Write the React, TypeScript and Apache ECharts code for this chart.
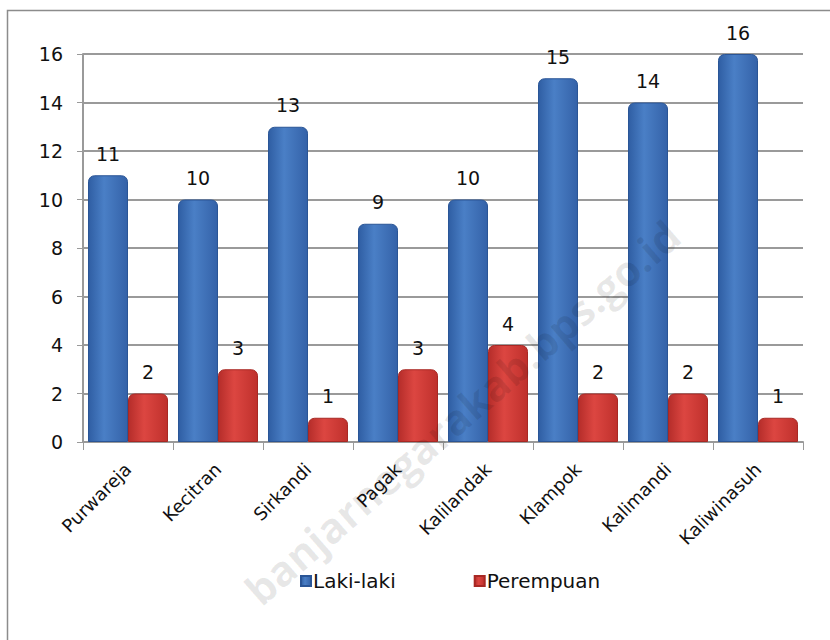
import React, { useEffect, useRef } from "react";
import * as echarts from "echarts";

const categories = ["Purwareja", "Kecitran", "Sirkandi", "Pagak", "Kalilandak", "Klampok", "Kalimandi", "Kaliwinasuh"];
const lakiLaki = [11, 10, 13, 9, 10, 15, 14, 16];
const perempuan = [2, 3, 1, 3, 4, 2, 2, 1];
const seriesNames = ["Laki-laki", "Perempuan"];
const watermark = "banjarnegarakab.bps.go.id";

const FONT = "'DejaVu Sans', 'Noto Sans', sans-serif";

function grad(dark: string, mid: string, light: string) {
  return new echarts.graphic.LinearGradient(0, 0, 1, 0, [
    { offset: 0, color: dark },
    { offset: 0.4, color: light },
    { offset: 1, color: mid },
  ]);
}

export default function App() {
  const ref = useRef<HTMLDivElement>(null);
  useEffect(() => {
    if (!ref.current) return;
    const chart = echarts.init(ref.current, null, { renderer: "svg" });
    const valueLabel = { show: true, position: "top", distance: 12, fontSize: 19, color: "#111", fontFamily: FONT };
    chart.setOption({
      animation: false,
      backgroundColor: "#ffffff",
      textStyle: { fontFamily: FONT },
      graphic: [
        {
          type: "polyline",
          shape: { points: [[7.5, 700], [7.5, 10.5], [900, 10.5]] },
          style: { fill: "none", stroke: "#8c8c8c", lineWidth: 1.5 },
          z: -10,
        },
        {
          type: "text",
          x: 462,
          y: 412,
          rotation: (41 * Math.PI) / 180,
          style: {
            text: watermark,
            font: "bold 42px 'Open Sans', sans-serif",
            fill: "rgba(0,0,0,0.09)",
            textAlign: "center",
            textVerticalAlign: "middle",
          },
          z: 100,
        },
      ],
      legend: {
        data: seriesNames,
        top: 566,
        left: 295,
        icon: "rect",
        itemWidth: 10,
        itemHeight: 10,
        itemGap: 78,
        textStyle: { fontSize: 20, color: "#111", fontFamily: FONT, padding: [0, 0, 0, -3] },
      },
      grid: { left: 83, right: 27, top: 54, bottom: 198, containLabel: false },
      xAxis: {
        type: "category",
        data: categories,
        axisLine: { lineStyle: { color: "#9a9a9a", width: 2 } },
        axisTick: { show: true, length: 8, lineStyle: { color: "#9a9a9a" } },
        axisLabel: { rotate: 45, fontSize: 18, color: "#111", fontFamily: FONT, margin: 24 },
      },
      yAxis: {
        type: "value",
        min: 0,
        max: 16,
        interval: 2,
        axisLine: { show: true, lineStyle: { color: "#9a9a9a", width: 2 } },
        axisTick: { show: true, length: 6, lineStyle: { color: "#9a9a9a" } },
        splitLine: { lineStyle: { color: "#9a9a9a", width: 2 } },
        axisLabel: { fontSize: 19, color: "#111", fontFamily: FONT, margin: 20 },
      },
      series: [
        {
          name: seriesNames[0],
          type: "bar",
          data: lakiLaki,
          barWidth: 40,
          barGap: "0%",
          color: "#3d6fb7",
          itemStyle: {
            color: grad("#2f5ea3", "#3462a8", "#4a7fc6"),
            borderColor: "#2a5596",
            borderWidth: 1,
            borderRadius: [6, 6, 0, 0],
          },
          label: valueLabel,
        },
        {
          name: seriesNames[1],
          type: "bar",
          data: perempuan,
          barWidth: 40,
          color: "#d13b36",
          itemStyle: {
            color: grad("#b52d2a", "#bf302c", "#dc4641"),
            borderColor: "#a82824",
            borderWidth: 1,
            borderRadius: [6, 6, 0, 0],
          },
          label: valueLabel,
        },
      ],
    });
    return () => chart.dispose();
  }, []);
  return (
    <div
      ref={ref}
      style={{ position: "absolute", left: 0, top: 0, width: 830, height: 640 }}
    />
  );
}
